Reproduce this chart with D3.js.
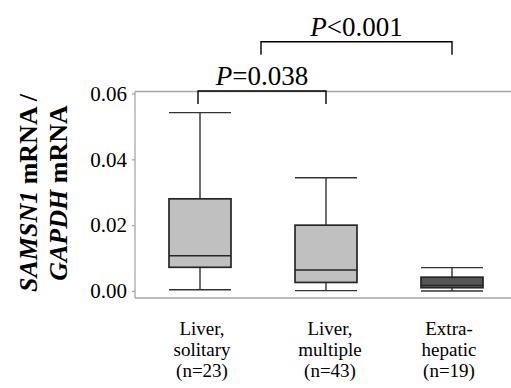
<!DOCTYPE html>
<html><head><meta charset="utf-8">
<script src="https://cdn.jsdelivr.net/npm/d3@7"></script>
<style>
html,body{margin:0;padding:0;background:#fff;}
svg{display:block;font-family:"Liberation Serif","Times New Roman",serif;}
</style></head>
<body>
<script>
const categories = ["Liver, solitary", "Liver, multiple", "Extra-hepatic"];
const labelLines = [["Liver,", "solitary", "(n=23)"], ["Liver,", "multiple", "(n=43)"], ["Extra-", "hepatic", "(n=19)"]];
const whiskerLow = [0.0004, 0.0001, 0.0000];
const q1 = [0.0072, 0.0026, 0.0010];
const median = [0.0107, 0.0064, 0.0017];
const q3 = [0.0280, 0.0200, 0.0042];
const whiskerHigh = [0.0542, 0.0344, 0.0071];
const boxFills = ["#c0c0c0", "#c0c0c0", "#555555"];
const yTicks = [0, 0.02, 0.04, 0.06];
const comparisons = [
  {from: 0, to: 1, label: "=0.038"},
  {from: 0.5, to: 2, label: "<0.001"}
];

(function() {
const W = 511, H = 388;
const svg = d3.select("body").append("svg").attr("width", W).attr("height", H);

const x = d3.scalePoint().domain(d3.range(categories.length)).range([200, 452]);
const y = d3.scaleLinear().domain([0, 0.06]).range([291, 93.5]);
const boxW = 62;
const pLeft = 135, pTop = 91.5, pBottom = 298;
const serif = "'Liberation Serif', 'Times New Roman', serif";

const grey = "#a6a6a6";
svg.append("line").attr("x1", pLeft).attr("x2", W).attr("y1", pTop).attr("y2", pTop).attr("stroke", grey).attr("stroke-width", 1.3);
svg.append("line").attr("x1", pLeft).attr("x2", W).attr("y1", pBottom).attr("y2", pBottom).attr("stroke", grey).attr("stroke-width", 1.3);

const yAxis = d3.axisLeft(y).tickValues(yTicks).tickFormat(d3.format(".2f")).tickSize(3).tickPadding(5);
const gy = svg.append("g").attr("transform", `translate(${pLeft},0)`).call(yAxis).attr("font-family", serif);
gy.select(".domain").remove();
gy.selectAll(".tick line").attr("stroke", grey).attr("stroke-width", 1.3);
gy.selectAll(".tick text").attr("font-size", 21).attr("fill", "#000");
svg.append("line").attr("x1", pLeft).attr("x2", pLeft).attr("y1", pTop).attr("y2", pBottom).attr("stroke", grey).attr("stroke-width", 1.3);

const data = categories.map((c, i) => ({i, lo: whiskerLow[i], q1: q1[i], med: median[i], q3: q3[i], hi: whiskerHigh[i], fill: boxFills[i]}));
const g = svg.selectAll("g.box").data(data).join("g").attr("class", "box");
const wc = "#333";
g.append("line").attr("x1", d => x(d.i)).attr("x2", d => x(d.i)).attr("y1", d => y(d.hi)).attr("y2", d => y(d.q3)).attr("stroke", wc).attr("stroke-width", 1.4);
g.append("line").attr("x1", d => x(d.i)).attr("x2", d => x(d.i)).attr("y1", d => y(d.q1)).attr("y2", d => y(d.lo)).attr("stroke", wc).attr("stroke-width", 1.4);
g.append("line").attr("x1", d => x(d.i) - boxW/2).attr("x2", d => x(d.i) + boxW/2).attr("y1", d => y(d.hi)).attr("y2", d => y(d.hi)).attr("stroke", wc).attr("stroke-width", 1.4);
g.append("line").attr("x1", d => x(d.i) - boxW/2).attr("x2", d => x(d.i) + boxW/2).attr("y1", d => y(d.lo)).attr("y2", d => y(d.lo)).attr("stroke", wc).attr("stroke-width", 1.4);
g.append("rect").attr("x", d => x(d.i) - boxW/2).attr("width", boxW).attr("y", d => y(d.q3)).attr("height", d => y(d.q1) - y(d.q3))
  .attr("fill", d => d.fill).attr("stroke", "#262626").attr("stroke-width", 1.7);
g.append("line").attr("x1", d => x(d.i) - boxW/2).attr("x2", d => x(d.i) + boxW/2).attr("y1", d => y(d.med)).attr("y2", d => y(d.med)).attr("stroke", "#262626").attr("stroke-width", 1.4);

const labelShift = [2, 4, -3];
const xl = svg.selectAll("text.xl").data(labelLines).join("text").attr("class", "xl")
  .attr("text-anchor", "middle").attr("font-size", 19).attr("fill", "#000").attr("font-family", serif);
xl.each(function(lines, i) {
  const t = d3.select(this);
  const cx = x(i) + labelShift[i];
  lines.forEach((ln, k) => t.append("tspan").attr("x", cx).attr("y", 335 + k * 21).text(ln));
});

const bracketY = [91, 41.7];
const legLen = 13;
comparisons.forEach((c, k) => {
  const x1 = c.from % 1 === 0 ? x(c.from) - 2 : (x(Math.floor(c.from)) + x(Math.ceil(c.from))) / 2 - 2;
  const x2 = x(c.to);
  const by = bracketY[k];
  svg.append("path").attr("d", `M${x1},${by + legLen}V${by}H${x2}V${by + legLen}`)
    .attr("fill", "none").attr("stroke", "#000").attr("stroke-width", 1.4);
  const t = svg.append("text").attr("x", (x1 + x2) / 2).attr("y", by - 6).attr("text-anchor", "middle")
    .attr("font-size", 27).attr("fill", "#000").attr("font-family", serif);
  t.append("tspan").attr("font-style", "italic").text("P");
  t.append("tspan").text(c.label);
});

const yt = svg.append("text").attr("transform", "translate(0,193) rotate(-90)").attr("text-anchor", "middle")
  .attr("font-size", 26).attr("font-weight", "bold").attr("fill", "#000").attr("font-family", serif);
const l1 = yt.append("tspan").attr("x", 0).attr("y", 37);
l1.append("tspan").attr("font-style", "italic").text("SAMSN1");
l1.append("tspan").text(" mRNA /");
const l2 = yt.append("tspan").attr("x", 0).attr("y", 67);
l2.append("tspan").attr("font-style", "italic").text("GAPDH");
l2.append("tspan").text(" mRNA");
})();
</script>
</body></html>
